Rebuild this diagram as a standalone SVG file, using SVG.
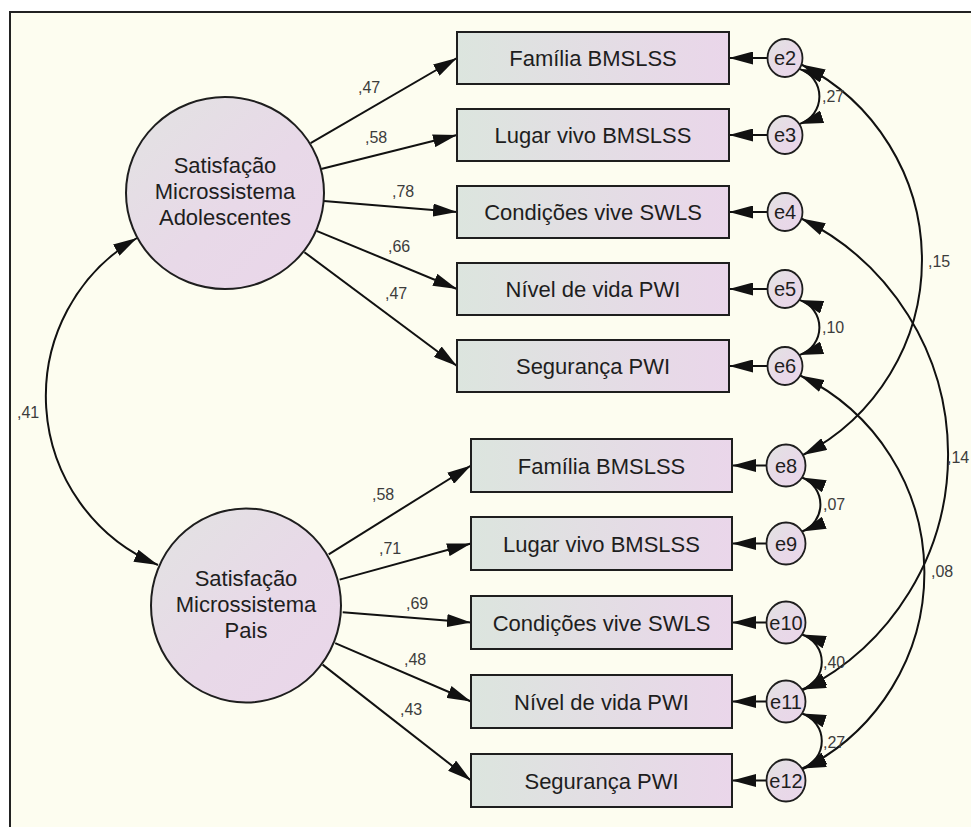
<svg xmlns="http://www.w3.org/2000/svg" width="971" height="827" viewBox="0 0 971 827">
  <defs>
    <style>
      .box{fill:url(#gBox);stroke:#1e1e1e;stroke-width:2}
      .lat{fill:url(#gLat);stroke:#1e1e1e;stroke-width:2}
      .err{fill:url(#gLat);stroke:#1e1e1e;stroke-width:1.8}
      .lbl{font-family:"Liberation Sans",Arial,sans-serif;font-size:22px;fill:#1e1e1e;text-anchor:middle}
      .elbl{font-family:"Liberation Sans",Arial,sans-serif;font-size:20px;fill:#1e1e1e;text-anchor:middle}
      .coef{font-family:"Liberation Sans",Arial,sans-serif;font-size:16px;fill:#3c3c3c}
      .path{fill:none;stroke:#111;stroke-width:2;marker-end:url(#ah)}
      .cov{fill:none;stroke:#111;stroke-width:2;marker-start:url(#ah);marker-end:url(#ah)}
    </style>
    <linearGradient id="gBox" x1="0" y1="0" x2="1" y2="0">
      <stop offset="0" stop-color="#dce5de"/>
      <stop offset="1" stop-color="#ead6ea"/>
    </linearGradient>
    <linearGradient id="gLat" x1="0" y1="0" x2="1" y2="1">
      <stop offset="0" stop-color="#e2e3e2"/>
      <stop offset="0.55" stop-color="#e8d9e8"/>
      <stop offset="1" stop-color="#ead6ea"/>
    </linearGradient>
    <marker id="ah" viewBox="0 0 24 13" refX="24" refY="6.5" markerWidth="24" markerHeight="13" markerUnits="userSpaceOnUse" orient="auto-start-reverse">
      <path d="M0,0 L24,6.5 L0,13 z" fill="#111"/>
    </marker>
  </defs>

  <!-- page and frame -->
  <rect x="0" y="0" width="971" height="827" fill="#ffffff"/>
  <rect x="10" y="12" width="990" height="840" fill="#fdfdf0" stroke="#222" stroke-width="2"/>

  <!-- connectors -->
  <g id="connectors">
    <!-- loadings: adolescents -->
    <path class="path" d="M310.6,143.2 L457,58"/>
    <path class="path" d="M321.1,169 L457,135"/>
    <path class="path" d="M323.7,201.1 L457,212"/>
    <path class="path" d="M316.5,230.8 L457,289"/>
    <path class="path" d="M304.4,252.2 L457,366"/>
    <!-- loadings: parents -->
    <path class="path" d="M328.7,554.3 L471,465.5"/>
    <path class="path" d="M339.6,579.6 L471,543.5"/>
    <path class="path" d="M342.7,612.3 L471,622.5"/>
    <path class="path" d="M335.2,643.1 L471,701.5"/>
    <path class="path" d="M322.6,664.6 L471,780.5"/>
    <!-- error terms to indicators -->
    <path class="path" d="M767.5,58 L729,58"/>
    <path class="path" d="M767.5,135 L729,135"/>
    <path class="path" d="M767.5,212 L729,212"/>
    <path class="path" d="M767.5,289 L729,289"/>
    <path class="path" d="M767.5,366 L729,366"/>
    <path class="path" d="M766.5,465.5 L732,465.5"/>
    <path class="path" d="M766.5,543.5 L732,543.5"/>
    <path class="path" d="M766.5,622.5 L732,622.5"/>
    <path class="path" d="M766.5,701.5 L732,701.5"/>
    <path class="path" d="M766.5,780.5 L732,780.5"/>
    <!-- covariances -->
    <path class="cov" d="M137,238 A183,183 0 0 0 158,565"/>
    <path class="cov" d="M799.3,68.9 A29,29 0 0 1 799.3,124.1"/>
    <path class="cov" d="M799.3,299.9 A29,29 0 0 1 799.3,355.1"/>
    <path class="cov" d="M802,477.5 A29,29 0 0 1 802,531.5"/>
    <path class="cov" d="M802,634.5 A29,29 0 0 1 802,689.5"/>
    <path class="cov" d="M802,713.5 A29,29 0 0 1 802,768.5"/>
    <path class="cov" d="M801.4,64.5 A219,219 0 0 1 802.9,455"/>
    <path class="cov" d="M801.4,218.5 A263.4,263.4 0 0 1 802.9,690"/>
    <path class="cov" d="M800.2,375.5 A219,219 0 0 1 802.9,769"/>
    <!-- coefficients -->
    <text class="coef" x="358" y="93">,47</text>
    <text class="coef" x="365" y="143">,58</text>
    <text class="coef" x="392" y="197">,78</text>
    <text class="coef" x="388" y="252">,66</text>
    <text class="coef" x="385" y="299">,47</text>
    <text class="coef" x="372" y="500">,58</text>
    <text class="coef" x="379" y="554">,71</text>
    <text class="coef" x="406" y="609">,69</text>
    <text class="coef" x="404" y="665">,48</text>
    <text class="coef" x="400" y="715">,43</text>
    <text class="coef" x="17" y="418">,41</text>
    <text class="coef" x="822" y="102">,27</text>
    <text class="coef" x="822" y="333">,10</text>
    <text class="coef" x="928" y="267">,15</text>
    <text class="coef" x="823" y="510">,07</text>
    <text class="coef" x="931" y="577">,08</text>
    <text class="coef" x="823" y="668">,40</text>
    <text class="coef" x="823" y="748">,27</text>
    <text class="coef" x="947" y="463">,14</text>
  </g>

  <!-- latent factors -->
  <g id="lat-adolescentes">
    <ellipse class="lat" cx="225" cy="193" rx="99" ry="96"/>
    <text class="lbl" x="225" y="173">Satisfação</text>
    <text class="lbl" x="225" y="199">Microssistema</text>
    <text class="lbl" x="225" y="225">Adolescentes</text>
  </g>
  <g id="lat-pais">
    <ellipse class="lat" cx="246" cy="605.5" rx="95" ry="97"/>
    <text class="lbl" x="246" y="585.5">Satisfação</text>
    <text class="lbl" x="246" y="611.5">Microssistema</text>
    <text class="lbl" x="246" y="637.5">Pais</text>
  </g>

  <!-- indicators: adolescents -->
  <g id="a-familia"><rect class="box" x="457" y="32" width="272" height="52"/><text class="lbl" x="593" y="66">Família BMSLSS</text></g>
  <g id="a-lugar"><rect class="box" x="457" y="109" width="272" height="52"/><text class="lbl" x="593" y="143">Lugar vivo BMSLSS</text></g>
  <g id="a-condicoes"><rect class="box" x="457" y="186" width="272" height="52"/><text class="lbl" x="593" y="220">Condições vive SWLS</text></g>
  <g id="a-nivel"><rect class="box" x="457" y="263" width="272" height="52"/><text class="lbl" x="593" y="297">Nível de vida PWI</text></g>
  <g id="a-seguranca"><rect class="box" x="457" y="340" width="272" height="52"/><text class="lbl" x="593" y="374">Segurança PWI</text></g>

  <!-- indicators: parents -->
  <g id="p-familia"><rect class="box" x="471" y="439" width="261" height="53"/><text class="lbl" x="601.5" y="473.5">Família BMSLSS</text></g>
  <g id="p-lugar"><rect class="box" x="471" y="517" width="261" height="53"/><text class="lbl" x="601.5" y="551.5">Lugar vivo BMSLSS</text></g>
  <g id="p-condicoes"><rect class="box" x="471" y="596" width="261" height="53"/><text class="lbl" x="601.5" y="630.5">Condições vive SWLS</text></g>
  <g id="p-nivel"><rect class="box" x="471" y="675" width="261" height="53"/><text class="lbl" x="601.5" y="709.5">Nível de vida PWI</text></g>
  <g id="p-seguranca"><rect class="box" x="471" y="754" width="261" height="53"/><text class="lbl" x="601.5" y="788.5">Segurança PWI</text></g>

  <!-- error terms -->
  <g id="e2"><ellipse class="err" cx="785" cy="58" rx="17.5" ry="19"/><text class="elbl" x="785" y="65">e2</text></g>
  <g id="e3"><ellipse class="err" cx="785" cy="135" rx="17.5" ry="19"/><text class="elbl" x="785" y="142">e3</text></g>
  <g id="e4"><ellipse class="err" cx="785" cy="212" rx="17.5" ry="19"/><text class="elbl" x="785" y="219">e4</text></g>
  <g id="e5"><ellipse class="err" cx="785" cy="289" rx="17.5" ry="19"/><text class="elbl" x="785" y="296">e5</text></g>
  <g id="e6"><ellipse class="err" cx="785" cy="366" rx="17.5" ry="19"/><text class="elbl" x="785" y="373">e6</text></g>
  <g id="e8"><ellipse class="err" cx="786" cy="465.5" rx="19.5" ry="21"/><text class="elbl" x="786" y="472.5">e8</text></g>
  <g id="e9"><ellipse class="err" cx="786" cy="543.5" rx="19.5" ry="21"/><text class="elbl" x="786" y="550.5">e9</text></g>
  <g id="e10"><ellipse class="err" cx="786" cy="622.5" rx="19.5" ry="21"/><text class="elbl" x="786" y="629.5">e10</text></g>
  <g id="e11"><ellipse class="err" cx="786" cy="701.5" rx="19.5" ry="21"/><text class="elbl" x="786" y="708.5">e11</text></g>
  <g id="e12"><ellipse class="err" cx="786" cy="780.5" rx="19.5" ry="21"/><text class="elbl" x="786" y="787.5">e12</text></g>
</svg>
